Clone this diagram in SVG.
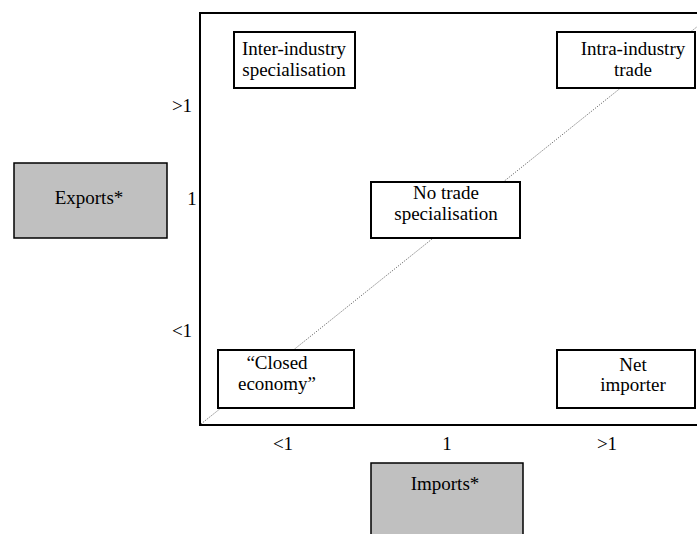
<svg xmlns="http://www.w3.org/2000/svg" width="697" height="534" viewBox="0 0 697 534" font-family="Liberation Serif, Times New Roman, serif">
<style>
text{font-family:"Liberation Serif","Times New Roman",serif;font-size:19px;fill:#000;text-anchor:middle}
.box{fill:#fff;stroke:#000;stroke-width:2}
.grey{fill:#c0c0c0;stroke:#000;stroke-width:1.5}
.axis{fill:none;stroke:#000;stroke-width:2}
.diag{stroke:#555;stroke-width:1;stroke-dasharray:1 1.5;fill:none}
</style>
<rect width="697" height="534" fill="#fff"/>
<g id="frame">
<path class="axis" d="M700,13 H200 V425 H700"/>
</g>
<g id="connectors">
<line class="diag" x1="201" y1="424" x2="698" y2="26"/>
</g>
<g id="axis-labels">
<text x="182" y="112">&gt;1</text>
<text x="192" y="205">1</text>
<text x="182" y="337">&lt;1</text>
<text x="283" y="450">&lt;1</text>
<text x="447" y="450">1</text>
<text x="607" y="450">&gt;1</text>
</g>
<g id="exports">
<rect class="grey" x="14" y="163" width="153" height="75"/>
<text x="89" y="204">Exports*</text>
</g>
<g id="imports">
<rect class="grey" x="371" y="463" width="152" height="80"/>
<text x="445" y="490">Imports*</text>
</g>
<g id="inter-industry">
<rect class="box" x="234" y="32" width="121" height="56"/>
<text x="294" y="55">Inter-industry</text>
<text x="294" y="76">specialisation</text>
</g>
<g id="intra-industry">
<rect class="box" x="557" y="32" width="138" height="56"/>
<text x="633" y="55">Intra-industry</text>
<text x="633" y="76">trade</text>
</g>
<g id="no-trade">
<rect class="box" x="371" y="182" width="149" height="56"/>
<text x="446" y="199">No trade</text>
<text x="446" y="220">specialisation</text>
</g>
<g id="closed-economy">
<rect class="box" x="218" y="350" width="136" height="58"/>
<text x="277" y="369">“Closed</text>
<text x="277" y="390">economy”</text>
</g>
<g id="net-importer">
<rect class="box" x="557" y="350" width="138" height="58"/>
<text x="633" y="371">Net</text>
<text x="633" y="391">importer</text>
</g>
</svg>
